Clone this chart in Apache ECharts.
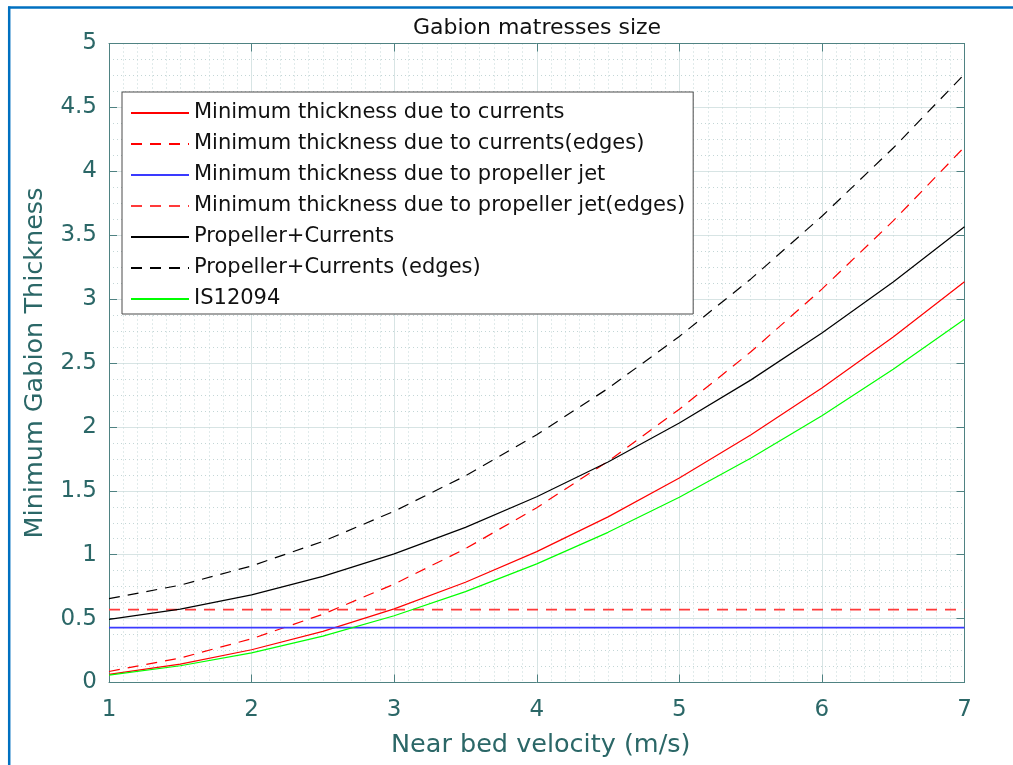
<!DOCTYPE html>
<html>
<head>
<meta charset="utf-8">
<title>Gabion matresses size</title>
<script src="https://cdn.jsdelivr.net/npm/echarts@6/dist/echarts.min.js"></script>
<style>
  html, body { margin: 0; padding: 0; background: #ffffff; }
  #chart { width: 1013px; height: 765px; }
</style>
</head>
<body>
<div id="chart"></div>
<script>
// Near bed velocity (m/s) sample points
const velocity = [1, 1.5, 2, 2.5, 3, 3.5, 4, 4.5, 5, 5.5, 6, 6.5, 7];

// Minimum gabion thickness curves at each velocity
const currents          = [0.064, 0.144, 0.256, 0.400, 0.576, 0.784, 1.024, 1.296, 1.600, 1.936, 2.304, 2.704, 3.136];
const currentsEdges     = [0.086, 0.192, 0.342, 0.534, 0.770, 1.047, 1.368, 1.731, 2.138, 2.586, 3.078, 3.612, 4.190];
const propCurrents      = [0.494, 0.574, 0.686, 0.830, 1.006, 1.214, 1.454, 1.726, 2.030, 2.366, 2.734, 3.134, 3.566];
const propCurrentsEdges = [0.656, 0.762, 0.912, 1.104, 1.340, 1.617, 1.938, 2.301, 2.708, 3.156, 3.648, 4.182, 4.760];
const is12094           = [0.058, 0.131, 0.232, 0.363, 0.522, 0.711, 0.928, 1.175, 1.450, 1.755, 2.088, 2.451, 2.842];

// Propeller jet limits do not change with velocity
const propJet      = [0.43, 0.43, 0.43, 0.43, 0.43, 0.43, 0.43, 0.43, 0.43, 0.43, 0.43, 0.43, 0.43];
const propJetEdges = [0.57, 0.57, 0.57, 0.57, 0.57, 0.57, 0.57, 0.57, 0.57, 0.57, 0.57, 0.57, 0.57];

// Axis ticks
const xTicks = [1, 2, 3, 4, 5, 6, 7];
const yTicks = [0, 0.5, 1, 1.5, 2, 2.5, 3, 3.5, 4, 4.5, 5];

const seriesNames = [
  'Minimum thickness due to currents',
  'Minimum thickness due to currents(edges)',
  'Minimum thickness due to propeller jet',
  'Minimum thickness due to propeller jet(edges)',
  'Propeller+Currents',
  'Propeller+Currents (edges)',
  'IS12094'
];

function pairs(xs, ys) {
  return xs.map(function (x, i) { return [x, ys[i]]; });
}

const FONT = 'DejaVu Sans';
const AXIS_COLOR = '#4f8282';
const LABEL_COLOR = '#2b6767';

function curve(name, ys, color, dashed, width) {
  return {
    name: name,
    type: 'line',
    data: pairs(velocity, ys),
    symbol: 'none',
    showSymbol: false,
    silent: true,
    itemStyle: { color: color, opacity: 0 },
    lineStyle: { color: color, width: width || 1.2, opacity: 1, type: dashed ? [11, 8] : 'solid' }
  };
}

const chart = echarts.init(document.getElementById('chart'), null, { renderer: 'canvas' });

const xMin = xTicks[0], xMax = xTicks[xTicks.length - 1];
const yMin = yTicks[0], yMax = yTicks[yTicks.length - 1];

chart.setOption({
  animation: false,
  backgroundColor: '#ffffff',
  textStyle: { fontFamily: FONT },
  title: {
    text: 'Gabion matresses size',
    left: 537,
    textAlign: 'center',
    top: 17,
    padding: 0,
    textStyle: { fontFamily: FONT, fontSize: 22, fontWeight: 'normal', color: '#111111' }
  },
  grid: { left: 109, right: 48.5, top: 43.5, bottom: 82.5, containLabel: false },
  legend: {
    data: seriesNames,
    orient: 'vertical',
    left: 122,
    top: 92,
    padding: [10, 8, 4, 8],
    itemWidth: 58,
    itemHeight: 14,
    itemGap: 9,
    backgroundColor: '#ffffff',
    borderColor: '#4a4a4a',
    borderWidth: 1,
    borderRadius: 0,
    selectedMode: false,
    itemStyle: { opacity: 0, borderWidth: 0 },
    textStyle: { fontFamily: FONT, fontSize: 21, color: '#111111', lineHeight: 22 }
  },
  xAxis: [
    {
      type: 'value',
      min: xMin,
      max: xMax,
      interval: 1,
      name: 'Near bed velocity (m/s)',
      nameLocation: 'middle',
      nameGap: 50,
      nameTextStyle: { fontFamily: FONT, fontSize: 25.5, color: LABEL_COLOR, padding: [0, 0, 0, 8] },
      axisLine: { show: true, onZero: false, lineStyle: { color: AXIS_COLOR, width: 1 } },
      axisTick: { show: true, inside: true, length: 8, lineStyle: { color: AXIS_COLOR } },
      axisLabel: { fontFamily: FONT, fontSize: 23, color: LABEL_COLOR, margin: 16 },
      splitLine: { show: true, lineStyle: { color: '#d7e4e4', width: 1 } },
      minorTick: { show: false, splitNumber: 10 },
      minorSplitLine: { show: true, lineStyle: { color: '#c3d6d6', width: 1, type: [1, 3] } }
    },
    {
      type: 'value',
      position: 'top',
      min: xMin,
      max: xMax,
      interval: 1,
      axisLine: { show: true, onZero: false, lineStyle: { color: AXIS_COLOR, width: 1 } },
      axisTick: { show: true, inside: true, length: 8, lineStyle: { color: AXIS_COLOR } },
      axisLabel: { show: false },
      splitLine: { show: false }
    }
  ],
  yAxis: [
    {
      type: 'value',
      min: yMin,
      max: yMax,
      interval: 0.5,
      name: 'Minimum Gabion Thickness',
      nameLocation: 'middle',
      nameGap: 61,
      nameTextStyle: { fontFamily: FONT, fontSize: 25.5, color: LABEL_COLOR },
      axisLine: { show: true, onZero: false, lineStyle: { color: AXIS_COLOR, width: 1 } },
      axisTick: { show: true, inside: true, length: 8, lineStyle: { color: AXIS_COLOR } },
      axisLabel: { fontFamily: FONT, fontSize: 23, color: LABEL_COLOR, margin: 12 },
      splitLine: { show: true, lineStyle: { color: '#d7e4e4', width: 1 } },
      minorTick: { show: false, splitNumber: 4 },
      minorSplitLine: { show: true, lineStyle: { color: '#c3d6d6', width: 1, type: [1, 3] } }
    },
    {
      type: 'value',
      position: 'right',
      min: yMin,
      max: yMax,
      interval: 0.5,
      axisLine: { show: true, onZero: false, lineStyle: { color: AXIS_COLOR, width: 1 } },
      axisTick: { show: true, inside: true, length: 8, lineStyle: { color: AXIS_COLOR } },
      axisLabel: { show: false },
      splitLine: { show: false }
    }
  ],
  series: [
    curve(seriesNames[0], currents, '#ff0000', false),
    curve(seriesNames[1], currentsEdges, '#ff0000', true),
    curve(seriesNames[2], propJet, '#3a3aff', false, 1.8),
    curve(seriesNames[3], propJetEdges, '#ff3a3a', true, 1.8),
    curve(seriesNames[4], propCurrents, '#000000', false),
    curve(seriesNames[5], propCurrentsEdges, '#000000', true),
    curve(seriesNames[6], is12094, '#00ff00', false)
  ],
  graphic: [
    // figure frame: top and left edges
    { type: 'line', silent: true, shape: { x1: 8, y1: 7.5, x2: 1013, y2: 7.5 },
      style: { stroke: '#0070c0', lineWidth: 2.5 } },
    { type: 'line', silent: true, shape: { x1: 9.2, y1: 6.5, x2: 9.2, y2: 765 },
      style: { stroke: '#0070c0', lineWidth: 2.5 } }
  ]
});
</script>
</body>
</html>
